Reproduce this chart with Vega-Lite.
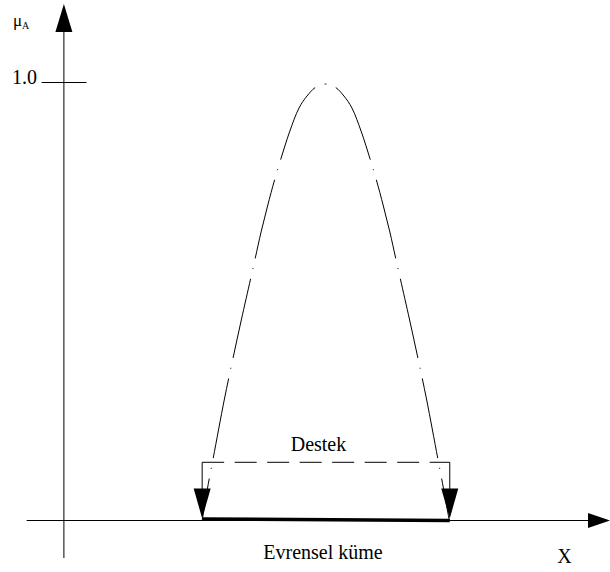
{
  "$schema": "https://vega.github.io/schema/vega-lite/v6.json",
  "width": 610,
  "height": 572,
  "padding": 0,
  "autosize": {"type": "fit", "contains": "padding"},
  "background": "white",
  "config": {"view": {"stroke": null}},
  "datasets": {
    "curve": [
      {"side": "L", "t": 0, "x": 5.24, "y": 0.99658},
      {"side": "L", "t": 1, "x": 5.05, "y": 0.98973},
      {"side": "L", "t": 2, "x": 4.87, "y": 0.96918},
      {"side": "L", "t": 3, "x": 4.71, "y": 0.94178},
      {"side": "L", "t": 4, "x": 4.52, "y": 0.88699},
      {"side": "L", "t": 5, "x": 4.34, "y": 0.82306},
      {"side": "L", "t": 6, "x": 4.22, "y": 0.7774},
      {"side": "L", "t": 7, "x": 4.08, "y": 0.71804},
      {"side": "L", "t": 8, "x": 3.95, "y": 0.65868},
      {"side": "L", "t": 9, "x": 3.834, "y": 0.59932},
      {"side": "L", "t": 10, "x": 3.744, "y": 0.55365},
      {"side": "L", "t": 11, "x": 3.554, "y": 0.45776},
      {"side": "L", "t": 12, "x": 3.384, "y": 0.36872},
      {"side": "L", "t": 13, "x": 3.216, "y": 0.2774},
      {"side": "L", "t": 14, "x": 2.988, "y": 0.14041},
      {"side": "L", "t": 15, "x": 2.874, "y": 0.07192},
      {"side": "L", "t": 16, "x": 2.77, "y": 0.0},
      {"side": "R", "t": 0, "x": 5.24, "y": 0.99658},
      {"side": "R", "t": 1, "x": 5.43, "y": 0.98973},
      {"side": "R", "t": 2, "x": 5.61, "y": 0.96918},
      {"side": "R", "t": 3, "x": 5.77, "y": 0.94178},
      {"side": "R", "t": 4, "x": 5.96, "y": 0.88699},
      {"side": "R", "t": 5, "x": 6.14, "y": 0.82306},
      {"side": "R", "t": 6, "x": 6.26, "y": 0.7774},
      {"side": "R", "t": 7, "x": 6.4, "y": 0.71804},
      {"side": "R", "t": 8, "x": 6.53, "y": 0.65868},
      {"side": "R", "t": 9, "x": 6.646, "y": 0.59932},
      {"side": "R", "t": 10, "x": 6.736, "y": 0.55365},
      {"side": "R", "t": 11, "x": 6.926, "y": 0.45776},
      {"side": "R", "t": 12, "x": 7.096, "y": 0.36872},
      {"side": "R", "t": 13, "x": 7.264, "y": 0.2774},
      {"side": "R", "t": 14, "x": 7.492, "y": 0.14041},
      {"side": "R", "t": 15, "x": 7.606, "y": 0.07192},
      {"side": "R", "t": 16, "x": 7.72, "y": 0.0}
    ],
    "segs": [
      {"kind": "thin", "x": 0, "y": -0.0856, "x2": 0, "y2": 1.15},
      {"kind": "thin", "x": -0.746, "y": 0, "x2": 10.7, "y2": 0},
      {"kind": "thin", "x": -0.446, "y": 1, "x2": 0.454, "y2": 1},
      {"kind": "thin", "x": 2.77, "y": 0.1329, "x2": 2.77, "y2": 0.0696},
      {"kind": "thin", "x": 7.73, "y": 0.1329, "x2": 7.73, "y2": 0.0696},
      {"kind": "thick", "x": 2.77, "y": 0, "x2": 7.73, "y2": 0},
      {"kind": "dashed", "x": 2.77, "y": 0.1329, "x2": 7.73, "y2": 0.1329}
    ],
    "arrows": [
      {"kind": "up", "x": 0, "y": 1.1792},
      {"kind": "right", "x": 10.94, "y": 0},
      {"kind": "down", "x": 2.77, "y": 0},
      {"kind": "down", "x": 7.73, "y": 0}
    ],
    "labels": [
      {"kind": "center", "label": "Destek", "x": 5.1, "y": 0.1594},
      {"kind": "center", "label": "Evrensel küme", "x": 5.19, "y": -0.0886},
      {"kind": "center", "label": "X", "x": 10.03, "y": -0.0963},
      {"kind": "right", "label": "1.0", "x": -0.54, "y": 0.9966},
      {"kind": "mu", "label": "μ", "x": -1.02, "y": 1.128},
      {"kind": "sub", "label": "A", "x": -0.84, "y": 1.123}
    ]
  },
  "encoding": {
    "x": {"field": "x", "type": "quantitative", "scale": {"domain": [-1.28, 10.92], "nice": false, "zero": false}, "axis": null},
    "y": {"field": "y", "type": "quantitative", "scale": {"domain": [-0.11758, 1.18836], "nice": false, "zero": false}, "axis": null}
  },
  "layer": [
    {
      "data": {"name": "segs"},
      "transform": [{"filter": "datum.kind === 'thin'"}],
      "mark": {"type": "rule", "color": "black", "strokeWidth": 1},
      "encoding": {"x2": {"field": "x2"}, "y2": {"field": "y2"}}
    },
    {
      "data": {"name": "segs"},
      "transform": [{"filter": "datum.kind === 'thick'"}],
      "mark": {"type": "rule", "color": "black", "strokeWidth": 3.5, "yOffset": -1.5},
      "encoding": {"x2": {"field": "x2"}, "y2": {"field": "y2"}}
    },
    {
      "data": {"name": "segs"},
      "transform": [{"filter": "datum.kind === 'dashed'"}],
      "mark": {"type": "rule", "color": "black", "strokeWidth": 1, "strokeDash": [22, 10.5]},
      "encoding": {"x2": {"field": "x2"}, "y2": {"field": "y2"}}
    },
    {
      "data": {"name": "curve"},
      "mark": {"type": "line", "color": "black", "strokeWidth": 1, "interpolate": "catmull-rom", "strokeDash": [1, 10, 81, 10]},
      "encoding": {"detail": {"field": "side"}, "order": {"field": "t", "type": "quantitative"}}
    },
    {
      "data": {"name": "arrows"},
      "transform": [{"filter": "datum.kind === 'up'"}],
      "mark": {"type": "point", "shape": "M0,0L-0.607,2L0.607,2Z", "size": 784, "filled": true, "color": "black", "opacity": 1}
    },
    {
      "data": {"name": "arrows"},
      "transform": [{"filter": "datum.kind === 'right'"}],
      "mark": {"type": "point", "shape": "M0,0L-2,-0.68L-2,0.68Z", "size": 484, "filled": true, "color": "black", "opacity": 1}
    },
    {
      "data": {"name": "arrows"},
      "transform": [{"filter": "datum.kind === 'down'"}],
      "mark": {"type": "point", "shape": "M0,0L-0.567,-2L0.567,-2Z", "size": 900, "filled": true, "color": "black", "opacity": 1, "yOffset": -2}
    },
    {
      "data": {"name": "labels"},
      "transform": [{"filter": "datum.kind === 'center'"}],
      "mark": {"type": "text", "font": "Liberation Serif", "fontSize": 20, "align": "center", "baseline": "alphabetic", "color": "black"},
      "encoding": {"text": {"field": "label"}}
    },
    {
      "data": {"name": "labels"},
      "transform": [{"filter": "datum.kind === 'right'"}],
      "mark": {"type": "text", "font": "Liberation Serif", "fontSize": 20, "align": "right", "baseline": "alphabetic", "color": "black"},
      "encoding": {"text": {"field": "label"}}
    },
    {
      "data": {"name": "labels"},
      "transform": [{"filter": "datum.kind === 'mu'"}],
      "mark": {"type": "text", "font": "Liberation Serif", "fontSize": 17, "align": "left", "baseline": "alphabetic", "color": "black"},
      "encoding": {"text": {"field": "label"}}
    },
    {
      "data": {"name": "labels"},
      "transform": [{"filter": "datum.kind === 'sub'"}],
      "mark": {"type": "text", "font": "Liberation Serif", "fontSize": 10, "align": "left", "baseline": "alphabetic", "color": "black"},
      "encoding": {"text": {"field": "label"}}
    }
  ]
}
